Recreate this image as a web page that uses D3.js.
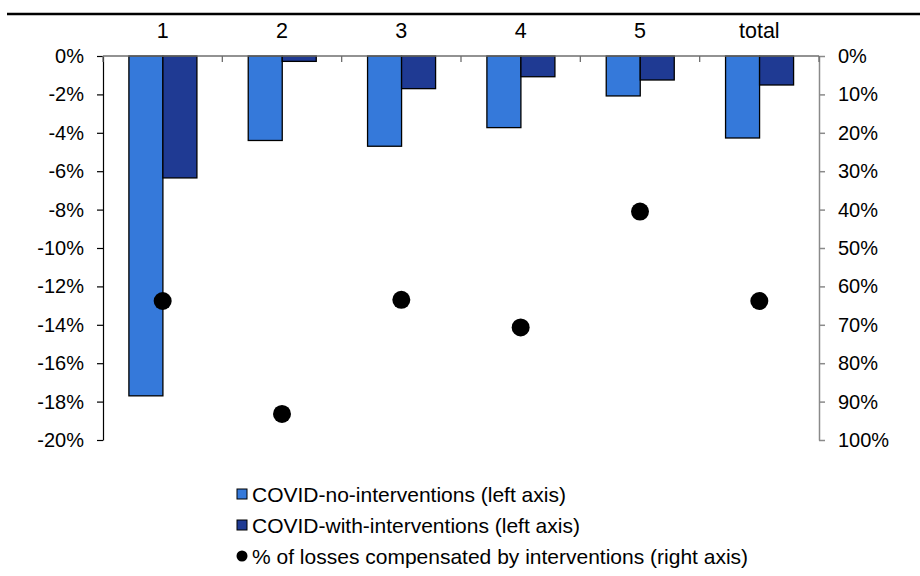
<!DOCTYPE html>
<html>
<head>
<meta charset="utf-8">
<script src="https://cdn.jsdelivr.net/npm/d3@7"></script>
<style>
  html, body { margin: 0; padding: 0; background: #fff; }
  svg { display: block; font-family: Arial, "Liberation Sans", sans-serif; }
</style>
</head>
<body>
<svg id="chart" width="920" height="576"></svg>
<script>
// Categories and series
const categories = ["1", "2", "3", "4", "5", "total"];
const noInterventions = [-17.7, -4.4, -4.7, -3.73, -2.08, -4.27];   // % change, left axis
const withInterventions = [-6.35, -0.28, -1.7, -1.08, -1.25, -1.51]; // % change, left axis
const compensated = [63.8, 93.2, 63.5, 70.7, 40.5, 63.8];           // %, right axis
const leftTicks = [0, -2, -4, -6, -8, -10, -12, -14, -16, -18, -20];
const rightTicks = [0, 10, 20, 30, 40, 50, 60, 70, 80, 90, 100];
const seriesNames = ["COVID-no-interventions (left axis)", "COVID-with-interventions (left axis)"];
const dotName = "% of losses compensated by interventions (right axis)";

const colors = { light: "#3579DA", dark: "#1F3A93" };

const svg = d3.select("#chart");
const plot = { left: 103, right: 819, top: 56, bottom: 440 };

// Thick rule along the top of the figure
svg.append("line")
  .attr("x1", 7).attr("x2", 920).attr("y1", 14).attr("y2", 14)
  .attr("stroke", "#000").attr("stroke-width", 2.7);

const x0 = d3.scaleBand().domain(categories).range([plot.left, plot.right]).padding(0);
const bw = x0.bandwidth();
const x1 = d3.scaleBand().domain(["no", "with"]).range([bw * 0.217, bw * 0.787]).padding(0);
const yL = d3.scaleLinear().domain([0, -20]).range([plot.top, plot.bottom]);
const yR = d3.scaleLinear().domain([0, 100]).range([plot.top, plot.bottom]);

// Bars
const rows = categories.map((c, i) => ({ c, no: noInterventions[i], with: withInterventions[i], p: compensated[i] }));
const g = svg.append("g");
rows.forEach(r => {
  [["no", colors.light], ["with", colors.dark]].forEach(([k, col]) => {
    g.append("rect")
      .attr("x", x0(r.c) + x1(k))
      .attr("y", yL(0))
      .attr("width", x1.bandwidth())
      .attr("height", yL(r[k]) - yL(0))
      .attr("fill", col)
      .attr("stroke", "#000")
      .attr("stroke-width", 1.3);
  });
});

// Left axis
const leftAxis = svg.append("g")
  .attr("transform", `translate(${plot.left},0)`)
  .call(d3.axisLeft(yL).tickValues(leftTicks).tickSize(6).tickSizeOuter(0).tickPadding(13)
    .tickFormat(d => d + "%"));
leftAxis.select(".domain").attr("stroke", "#000").attr("stroke-width", 1.2);
leftAxis.selectAll(".tick line").attr("stroke", "#000").attr("stroke-width", 1.2);
leftAxis.selectAll(".tick text").attr("font-size", 20).attr("fill", "#000")
  .attr("font-family", "Arial, 'Liberation Sans', sans-serif");

// Right axis
const rightAxis = svg.append("g")
  .attr("transform", `translate(${plot.right},0)`)
  .call(d3.axisRight(yR).tickValues(rightTicks).tickSize(6).tickSizeOuter(0).tickPadding(13)
    .tickFormat(d => d + "%"));
rightAxis.select(".domain").attr("stroke", "#8a8a8a").attr("stroke-width", 1.5);
rightAxis.selectAll(".tick line").attr("stroke", "#8a8a8a").attr("stroke-width", 1.5);
rightAxis.selectAll(".tick text").attr("font-size", 20).attr("fill", "#000")
  .attr("font-family", "Arial, 'Liberation Sans', sans-serif");

// Category axis along the zero line, labels above
const catAxis = svg.append("g").attr("transform", `translate(0,${yL(0)})`);
catAxis.append("line")
  .attr("x1", plot.left).attr("x2", plot.right)
  .attr("stroke", "#6e6e6e").attr("stroke-width", 1.6);
const bounds = categories.map(c => x0(c)).concat([plot.right]);
catAxis.selectAll("line.b").data(bounds).join("line")
  .attr("class", "b")
  .attr("x1", d => d).attr("x2", d => d).attr("y1", 0).attr("y2", 6)
  .attr("stroke", "#6e6e6e").attr("stroke-width", 1.3);
svg.append("g").selectAll("text").data(categories).join("text")
  .attr("x", d => x0(d) + bw / 2)
  .attr("y", 37.5)
  .attr("text-anchor", "middle")
  .attr("font-size", 21.5)
  .attr("fill", "#000")
  .text(d => d);

// Dots on the right axis scale
svg.append("g").selectAll("circle").data(rows).join("circle")
  .attr("cx", d => x0(d.c) + bw / 2)
  .attr("cy", d => yR(d.p))
  .attr("r", 9)
  .attr("fill", "#000");

// Legend
const legend = svg.append("g");
const lx = 237;
const ly = [494, 525, 556];
legend.append("rect").attr("x", lx).attr("y", ly[0] - 5).attr("width", 10).attr("height", 10)
  .attr("fill", colors.light).attr("stroke", "#000").attr("stroke-width", 1);
legend.append("rect").attr("x", lx).attr("y", ly[1] - 5).attr("width", 10).attr("height", 10)
  .attr("fill", colors.dark).attr("stroke", "#000").attr("stroke-width", 1);
legend.append("circle").attr("cx", lx + 5).attr("cy", ly[2]).attr("r", 5.5).attr("fill", "#000");
[seriesNames[0], seriesNames[1], dotName].forEach((t, i) => {
  legend.append("text")
    .attr("x", 252).attr("y", ly[i] + 7.5)
    .attr("font-size", 21).attr("fill", "#000")
    .text(t);
});
</script>
</body>
</html>
